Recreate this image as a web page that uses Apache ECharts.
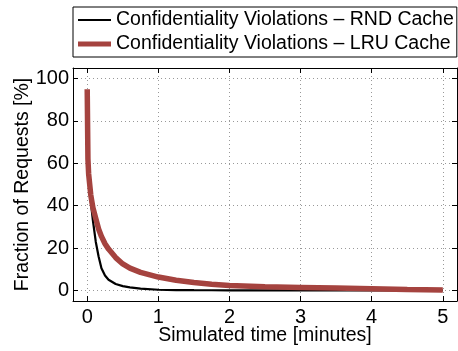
<!DOCTYPE html>
<html><head><meta charset="utf-8">
<script src="https://cdn.jsdelivr.net/npm/echarts@6/dist/echarts.min.js"></script>
<style>html,body{margin:0;padding:0;background:#fff}#c{width:458px;height:351px}</style>
</head><body><div id="c"></div>
<script>
const time = [0, 0.01, 0.02, 0.05, 0.08, 0.12, 0.16, 0.2, 0.25, 0.3, 0.4, 0.5, 0.6, 0.75, 1, 1.25, 1.5, 1.75, 2, 2.5, 3, 3.5, 4, 4.5, 5];
const rndCache = [60, 56, 52, 42, 33, 23, 16, 10.5, 7, 5, 3, 2, 1.4, 0.8, 0.3, 0.15, 0.1, 0.07, 0.05, 0, 0, 0, 0, 0, 0];
const lruCache = [95, 62, 55, 45, 39, 34, 29, 25.5, 22, 19.5, 15.5, 12.5, 10.5, 8.5, 6.3, 4.8, 3.7, 2.9, 2.3, 1.7, 1.4, 1.1, 0.8, 0.4, 0.2];
const xTicks = [0, 1, 2, 3, 4, 5];
const yTicks = [0, 20, 40, 60, 80, 100];
const seriesNames = ['Confidentiality Violations \u2013 RND Cache', 'Confidentiality Violations \u2013 LRU Cache'];

const font = 'Liberation Sans, Arial, Helvetica, sans-serif';
const chart = echarts.init(document.getElementById('c'), null, {renderer: 'canvas'});
const pair = (xs, ys) => xs.map((x, i) => [x, ys[i]]);
const frameLine = {show: true, onZero: false, lineStyle: {color: '#000', width: 1}};
const tickIn = {show: true, inside: true, length: 5, lineStyle: {color: '#000', width: 1}};
const RED = '#A5433F';
chart.setOption({
  animation: false,
  textStyle: {fontFamily: font},
  grid: {left: 73, right: 1, top: 68, bottom: 47, containLabel: false},
  legend: {
    orient: 'vertical', left: 73, top: 7,
    padding: [3, 3, 3, 5], itemGap: 4,
    borderColor: '#000', borderWidth: 1, backgroundColor: '#fff',
    itemWidth: 33, itemHeight: 21,
    textStyle: {fontFamily: font, fontSize: 19.5, color: '#000'},
    data: [
      {name: seriesNames[0], icon: 'path://M0,0L33,0L33,2L0,2Z', itemStyle: {color: '#000'}},
      {name: seriesNames[1], icon: 'path://M0,0L33,0L33,5L0,5Z', itemStyle: {color: RED}}
    ]
  },
  xAxis: [{
    type: 'value', min: -0.2, max: 5.2,
    name: 'Simulated time [minutes]', nameLocation: 'middle', nameGap: 25, nameMoveOverlap: false,
    nameTextStyle: {fontFamily: font, fontSize: 19.5, color: '#000'},
    axisLine: frameLine, axisTick: Object.assign({customValues: xTicks}, tickIn),
    axisLabel: {customValues: xTicks, fontFamily: font, fontSize: 20, color: '#000', margin: 6},
    splitLine: {show: true, lineStyle: {color: '#999', type: [1, 3], width: 1}}
  }, {
    type: 'value', position: 'top', min: -0.2, max: 5.2,
    axisLine: frameLine, axisTick: Object.assign({customValues: xTicks}, tickIn),
    axisLabel: {show: false}, splitLine: {show: false}
  }],
  yAxis: [{
    type: 'value', min: -5, max: 105,
    name: 'Fraction of Requests [%]', nameLocation: 'middle', nameGap: 40, nameMoveOverlap: false,
    nameTextStyle: {fontFamily: font, fontSize: 19.5, color: '#000'},
    axisLine: frameLine, axisTick: Object.assign({customValues: yTicks}, tickIn),
    axisLabel: {customValues: yTicks, fontFamily: font, fontSize: 20, color: '#000', margin: 4},
    splitLine: {show: true, lineStyle: {color: '#999', type: [1, 3], width: 1}}
  }, {
    type: 'value', position: 'right', min: -5, max: 105,
    axisLine: frameLine, axisTick: Object.assign({customValues: yTicks}, tickIn),
    axisLabel: {show: false}, splitLine: {show: false}
  }],
  series: [{
    name: seriesNames[0], type: 'line', data: pair(time, rndCache),
    symbol: 'none', smooth: false, z: 2,
    lineStyle: {color: '#000', width: 2.2}, itemStyle: {color: '#000'}
  }, {
    name: seriesNames[1], type: 'line', data: pair(time, lruCache),
    symbol: 'none', smooth: false, z: 3,
    lineStyle: {color: RED, width: 5.5}, itemStyle: {color: RED}
  }]
});
</script></body></html>
